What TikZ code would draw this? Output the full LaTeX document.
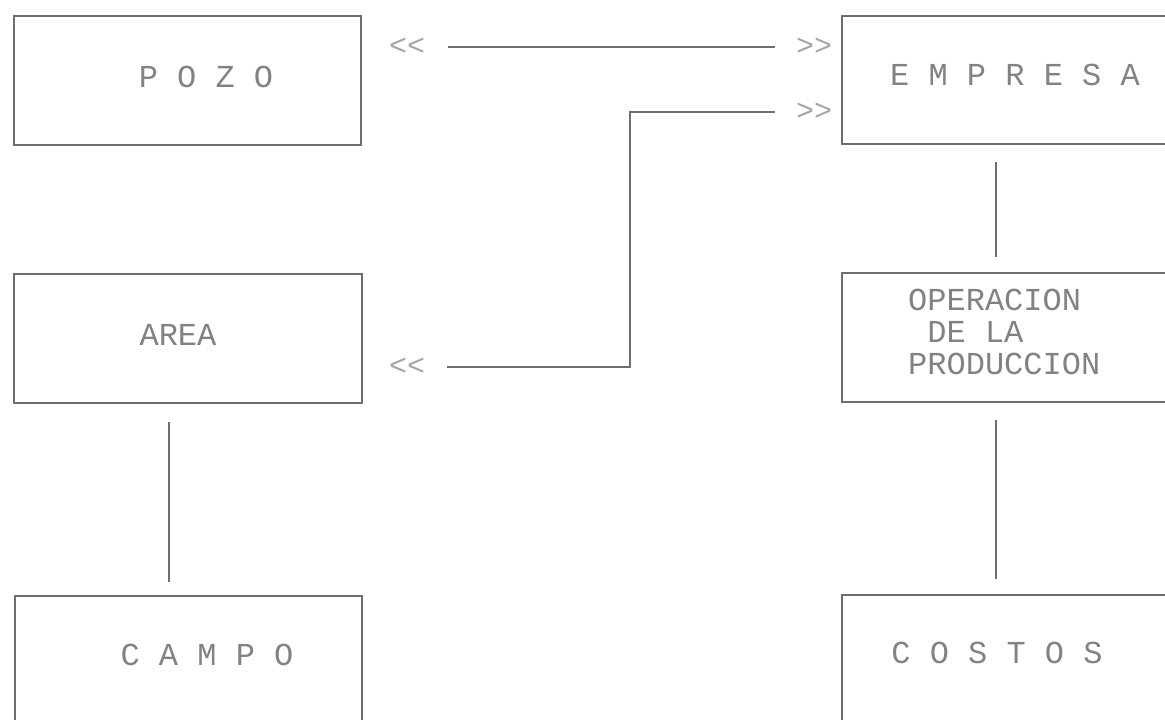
\documentclass[tikz,border=0pt]{standalone}
\usepackage{fontspec}
\setmonofont{Liberation Mono}
\definecolor{ln}{RGB}{110,110,110}
\definecolor{tx}{RGB}{130,130,130}
\definecolor{ch}{RGB}{165,165,165}
\begin{document}
\begin{tikzpicture}[x=1pt,y=-1pt,
  box/.style={draw=ln, line width=1.3pt, inner sep=0pt, outer sep=0pt},
  lbl/.style={text=tx, font=\ttfamily\fontsize{32}{32}\selectfont, inner sep=0pt},
  chev/.style={text=ch, font=\ttfamily\fontsize{30}{30}\selectfont, inner sep=0pt},
  conn/.style={draw=ln, line width=1.1pt}]
\useasboundingbox (0,0) rectangle (1165,720);
\clip (0,0) rectangle (1165,720);
% boxes
\node[box, minimum width=347pt, minimum height=129pt] (pozo) at (187.5,80.5) {};
\node[box, minimum width=330pt, minimum height=128pt] (empresa) at (1007,80) {};
\node[box, minimum width=348pt, minimum height=129pt] (area) at (188,338.5) {};
\node[box, minimum width=330pt, minimum height=129pt] (oper) at (1007,337.5) {};
\node[box, minimum width=347pt, minimum height=150pt] (campo) at (188.5,671) {};
\node[box, minimum width=330pt, minimum height=150pt] (costos) at (1007,670) {};
% texts
\node[lbl] (tpozo) at (206,77) {P O Z O};
\node[lbl] (tempresa) at (1015,75) {E M P R E S A};
\node[lbl] (tarea) at (178,335) {AREA};
\node[lbl, anchor=base west, align=left] (toper) at (908,374) {OPERACION\\\hphantom{O}DE LA\\PRODUCCION};
\node[lbl] (tcampo) at (207,655) {C A M P O};
\node[lbl] (tcostos) at (997,653) {C O S T O S};
% chevrons
\node[chev] (ltop) at (407,47) {<{}<};
\node[chev] (rtop) at (814,47) {>{}>};
\node[chev] (rmid) at (814,112) {>{}>};
\node[chev] (lbot) at (407,367) {<{}<};
% connectors
\draw[conn, shorten <=41pt, shorten >=39pt] (ltop.center) -- (rtop.center);
\coordinate (jn) at (630,240);
\draw[conn, shorten <=39pt, shorten >=40pt] (rmid.center) -| (jn) |- (lbot.center);
\coordinate (xr) at (996,0);
\coordinate (xl) at (169,0);
\draw[conn, shorten <=18pt, shorten >=16pt] (empresa.south -| xr) -- (oper.north -| xr);
\draw[conn, shorten <=18pt, shorten >=16pt] (oper.south -| xr) -- (costos.north -| xr);
\draw[conn, shorten <=19pt, shorten >=14pt] (area.south -| xl) -- (campo.north -| xl);
\end{tikzpicture}
\end{document}
